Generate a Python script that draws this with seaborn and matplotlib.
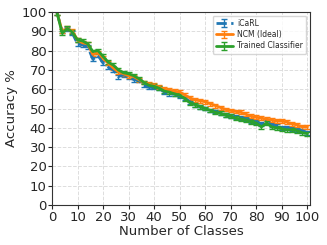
import numpy as np
import pandas as pd
import matplotlib
matplotlib.use("Agg")
import matplotlib.pyplot as plt
import seaborn as sns

classes = list(range(2, 101, 2))

icarl = [99.5, 90.0, 91.0, 89.0, 83.5, 83.0, 82.0, 75.5, 77.5, 73.5,
         71.5, 70.0, 66.5, 67.5, 66.5, 65.0, 64.5, 62.0, 61.0, 61.0,
         60.5, 58.5, 57.5, 57.5, 56.5, 55.5, 53.5, 52.0, 51.0, 50.0,
         49.0, 48.5, 47.5, 46.5, 46.0, 45.5, 45.0, 44.5, 43.5, 43.0,
         42.0, 43.0, 41.5, 41.0, 40.0, 40.0, 39.5, 39.0, 38.5, 37.5]

ncm = [99.5, 90.0, 91.5, 90.0, 85.5, 84.0, 83.5, 78.0, 79.0, 76.0,
       73.5, 71.0, 69.0, 68.0, 67.0, 66.5, 65.0, 63.5, 62.5, 62.0,
       61.0, 60.0, 59.5, 59.0, 58.5, 57.0, 55.5, 54.5, 54.0, 53.5,
       52.5, 51.5, 50.5, 49.5, 49.0, 48.5, 48.0, 47.0, 46.0, 45.5,
       45.0, 44.5, 44.0, 43.5, 43.5, 43.0, 42.0, 41.5, 40.5, 40.5]

trained = [99.5, 89.0, 91.5, 89.5, 85.5, 85.0, 83.5, 79.5, 80.0, 77.0,
           74.0, 72.5, 70.0, 68.5, 68.0, 67.0, 65.5, 63.5, 62.0, 61.5,
           60.5, 59.0, 58.5, 57.5, 57.0, 55.0, 53.0, 52.0, 51.0, 50.0,
           49.0, 48.0, 47.5, 46.5, 46.0, 45.0, 44.5, 44.0, 43.0, 42.5,
           40.5, 42.5, 40.5, 40.0, 39.5, 39.0, 39.0, 38.5, 37.5, 37.0]

# spread across runs, roughly the size of the error caps in the picture
err = 1.0

sns.set_style("ticks")
plt.rcParams["font.family"] = ["DejaVu Sans"]
colors = sns.color_palette("tab10")

fig = plt.figure(figsize=(3.27, 2.45), dpi=100)
ax = fig.add_axes([0.159, 0.163, 0.789, 0.788])

ax.errorbar(classes, icarl, yerr=err, color=colors[0], linestyle="--", lw=2,
            capsize=2, elinewidth=1, label="iCaRL")
ax.errorbar(classes, ncm, yerr=err, color=colors[1], lw=2,
            capsize=2, elinewidth=1, label="NCM (Ideal)")
ax.errorbar(classes, trained, yerr=err, color=colors[2], lw=2,
            capsize=2, elinewidth=1, label="Trained Classifier")

ax.set_xlim(0, 101)
ax.set_ylim(0, 100)
ax.set_xticks(range(0, 101, 10))
ax.set_yticks(range(0, 101, 10))
ax.tick_params(labelsize=9.5, length=3, pad=1)
ax.grid(True, linestyle="--", color="#dddddd", linewidth=0.7)
for s in ax.spines.values():
    s.set_color("#333333")
ax.set_xlabel("Number of Classes", fontsize=9.5, labelpad=1)
ax.set_ylabel("Accuracy %", fontsize=9.5, labelpad=2)

ax.legend(loc="upper right", fontsize=5.5, frameon=True, handlelength=2.2,
          borderpad=0.4, labelspacing=0.3, handletextpad=0.6)

fig.savefig("out.png", dpi=100)
